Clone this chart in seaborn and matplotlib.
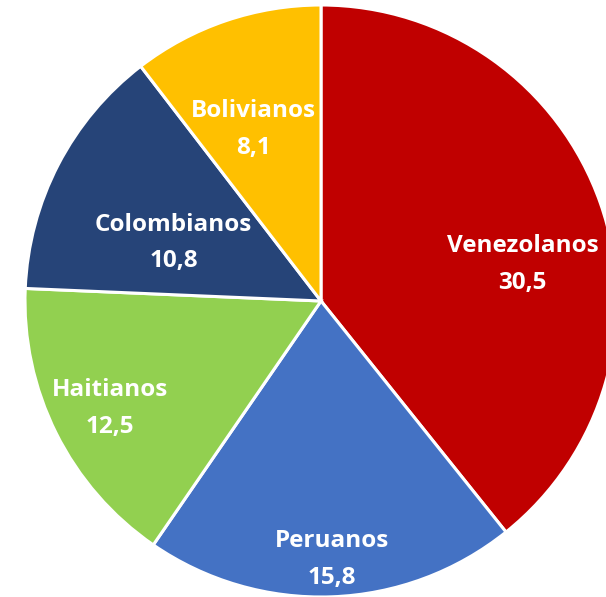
import numpy as np
import matplotlib
matplotlib.use("Agg")
import matplotlib.pyplot as plt
import seaborn as sns

# Data
groups = ['Venezolanos', 'Peruanos', 'Haitianos', 'Colombianos', 'Bolivianos']
values = [30.5, 15.8, 12.5, 10.8, 8.1]
value_labels = ['30,5', '15,8', '12,5', '10,8', '8,1']

colors = ['#C00000', '#4472C4', '#92D050', '#264478', '#FFC000']

# label placement (fraction of radius, angle offset in degrees)
label_r = [0.69, 0.862, 0.80, 0.544, 0.635]
label_dtheta = [-8.0, 0.0, -0.5, 5.0, 2.7]

sns.set_theme(style="white")
plt.rcParams['font.family'] = ['Open Sans', 'DejaVu Sans']

fig = plt.figure(figsize=(6.06, 5.97), dpi=100)
ax = fig.add_axes([0, 0, 1, 1])

wedges, _ = ax.pie(values, colors=sns.color_palette(colors), startangle=90,
                   counterclock=False, radius=1.0,
                   wedgeprops=dict(edgecolor='white', linewidth=2.2))

for w, name, val, r, dt in zip(wedges, groups, value_labels, label_r, label_dtheta):
    mid = np.deg2rad((w.theta1 + w.theta2) / 2 + dt)
    # small downward nudge so the glyphs sit where the original had them
    ax.text(r * np.cos(mid) + 0.005, r * np.sin(mid) - 0.012, f"{name}\n{val}",
            ha='center', va='center', color='white', fontsize=17.5,
            fontweight='bold', linespacing=1.7)

ax.set_aspect('auto')
ax.set_xlim(-321 / 296, 285 / 296)
ax.set_ylim(-1.0, 301 / 296)
ax.axis('off')

fig.savefig('out.png', dpi=100)
